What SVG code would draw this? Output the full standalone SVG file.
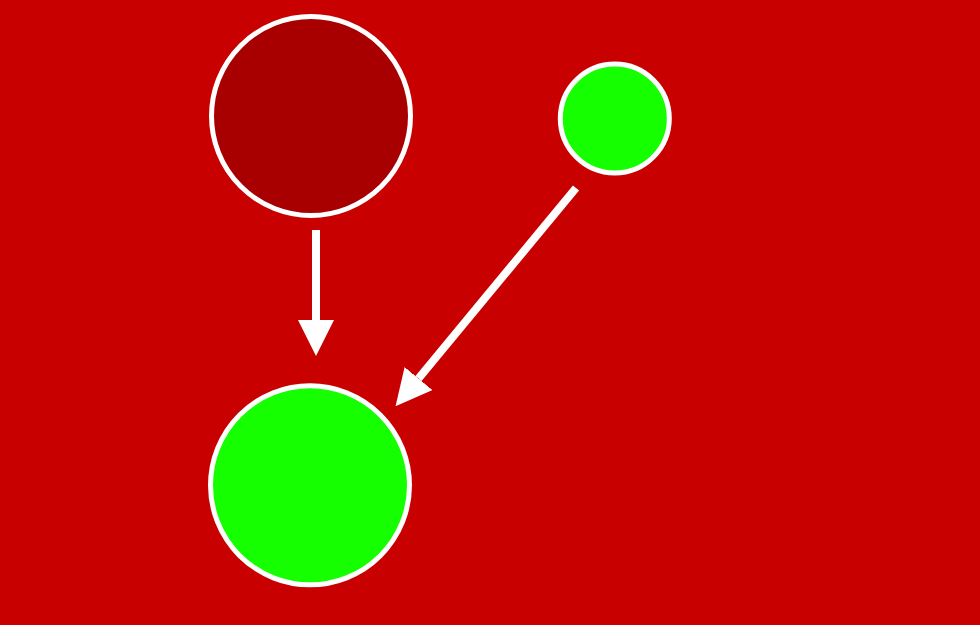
<svg xmlns="http://www.w3.org/2000/svg" width="980" height="625" viewBox="0 0 980 625">
<style>
.node{stroke:#ffffff;stroke-width:5}
.dark{fill:#a80000}
.green{fill:#15ff00}
.edge{stroke:#ffffff;stroke-width:8;fill:none}
</style>
<defs>
<marker id="arrow" markerUnits="userSpaceOnUse" markerWidth="36" markerHeight="36" refX="0" refY="18" orient="auto" viewBox="0 0 36 36">
<path d="M0,0 L36,18 L0,36 z" fill="#ffffff"/>
</marker>
</defs>
<rect width="980" height="625" fill="#c80000"/>
<g id="connectors">
<line class="edge" x1="316" y1="230" x2="316" y2="320" marker-end="url(#arrow)"/>
<line class="edge" x1="576" y1="188" x2="418.5" y2="378.5" marker-end="url(#arrow)"/>
</g>
<g id="node-top-left"><circle class="node dark" cx="311" cy="116" r="99.5"/></g>
<g id="node-top-right"><circle class="node green" cx="614.8" cy="118.5" r="54.5"/></g>
<g id="node-bottom"><circle class="node green" cx="310" cy="485.3" r="99.5"/></g>
</svg>
